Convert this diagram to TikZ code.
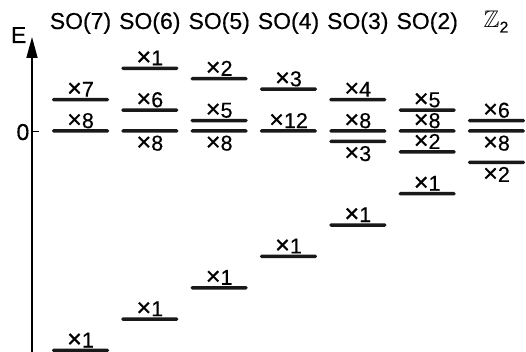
\documentclass[tikz,border=0pt]{standalone}
\usepackage{amssymb}
\usepackage{graphicx}
\usepackage{fontspec}
\setmainfont[FakeBold=0.35]{Liberation Sans}
\usetikzlibrary{arrows.meta}

% multiplication sign, slightly enlarged
\newcommand\mtimes{\scalebox{1.18}{×}}

% one energy level: bar node plus its multiplicity label
% #1 name, #2 column (1..7), #3 level in units, #4 multiplicity
\newcommand\levelabove[4]{%
  \node[levelbar] (#1) at ({80.5+69.33*(#2-1)},{131-10.45*(#3)}) {};
  \node[mult, anchor=base, yshift=1.0pt] (#1-m) at (#1.north) {\mtimes#4};}
\newcommand\levelbelow[4]{%
  \node[levelbar] (#1) at ({80.5+69.33*(#2-1)},{131-10.45*(#3)}) {};
  \node[mult, anchor=base, yshift=-17.6pt] (#1-m) at (#1.south) {\mtimes#4};}

\begin{document}
\begin{tikzpicture}[x=1pt, y=-1pt,
    levelbar/.style={rectangle, fill=black!90, inner sep=0pt,
      minimum width=57pt, minimum height=3.5pt, rounded corners=1.5pt},
    mult/.style={inner sep=0pt, font=\fontsize{21.5}{26}\selectfont},
    head/.style={inner sep=0pt, anchor=base, font=\fontsize{23}{27}\selectfont},
    axis/.style={line width=1.7pt, -{Triangle[length=21pt, width=11pt]}}]
  \useasboundingbox (0,0) rectangle (526,352);

  % energy axis
  \coordinate (axbot) at (32,353);
  \coordinate (axtop) at (32,37);
  \draw[axis] (axbot) -- (axtop);
  \node[head, anchor=base east] (elabel) at (26.5,43) {E};
  \coordinate (tickL) at (32,131.5);
  \coordinate (tickR) at (39,131.5);
  \draw[line width=1pt] (tickL) -- (tickR);
  \node[head, anchor=base east] (zero) at (29.5,140) {0};

  % group headings
  \node[head] (h1) at (80.5,29) {SO(7)};
  \node[head] (h2) at (149.8,29) {SO(6)};
  \node[head] (h3) at (219.2,29) {SO(5)};
  \node[head] (h4) at (288.5,29) {SO(4)};
  \node[head] (h5) at (357.8,29) {SO(3)};
  \node[head] (h6) at (427.2,29) {SO(2)};
  \node[head, anchor=base west] (h7) at (483.5,28)
    {{\fontsize{24}{28}\selectfont$\mathbb{Z}$}\raisebox{-4.5pt}{\fontsize{15.5}{18}\selectfont 2}};

  % SO(7)
  \levelabove{a1}{1}{3}{7}
  \levelabove{a2}{1}{0}{8}
  \levelabove{a3}{1}{-21}{1}
  % SO(6)
  \levelabove{b1}{2}{6}{1}
  \levelabove{b2}{2}{2}{6}
  \levelbelow{b3}{2}{0}{8}
  \levelabove{b4}{2}{-18}{1}
  % SO(5)
  \levelabove{c1}{3}{5}{2}
  \levelabove{c2}{3}{1}{5}
  \levelbelow{c3}{3}{0}{8}
  \levelabove{c4}{3}{-15}{1}
  % SO(4)
  \levelabove{d1}{4}{4}{3}
  \levelabove{d2}{4}{0}{12}
  \levelabove{d3}{4}{-12}{1}
  % SO(3)
  \levelabove{e1}{5}{3}{4}
  \levelabove{e2}{5}{0}{8}
  \levelbelow{e3}{5}{-1}{3}
  \levelabove{e4}{5}{-9}{1}
  % SO(2)
  \levelabove{f1}{6}{2}{5}
  \levelabove{f2}{6}{0}{8}
  \levelabove{f3}{6}{-2}{2}
  \levelabove{f4}{6}{-6}{1}
  % Z2
  \levelabove{g1}{7}{1}{6}
  \levelbelow{g2}{7}{0}{8}
  \levelbelow{g3}{7}{-3}{2}
\end{tikzpicture}
\end{document}
